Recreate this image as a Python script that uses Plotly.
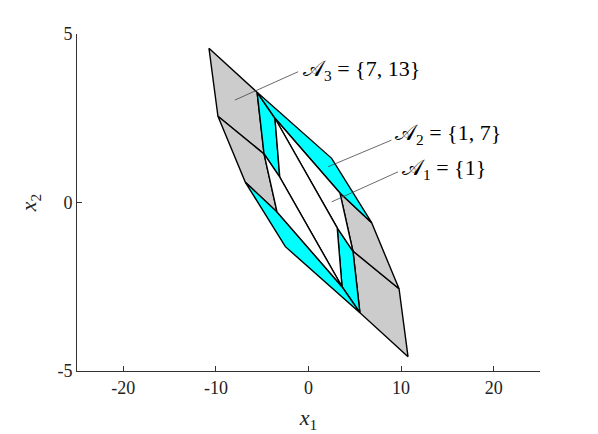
import plotly.graph_objects as go

# vertices of the polyhedral partition (x1, x2)
gray_x = [
    [-10.75, -5.55, -4.80, -9.78],
    [-9.78, -4.80, -3.40, -6.82],
    [10.75, 5.55, 4.80, 9.78],
    [9.78, 4.80, 3.40, 6.82],
]
gray_y = [
    [4.58, 3.27, 1.44, 2.56],
    [2.56, 1.44, -0.28, 0.60],
    [-4.58, -3.27, -1.44, -2.56],
    [-2.56, -1.44, 0.28, -0.60],
]
cyan_x = [
    [-5.55, -3.62, -3.10, -4.80],
    [5.55, 3.62, 3.10, 4.80],
    [-5.55, 2.50, 6.82, 3.40, -3.62],
    [5.55, -2.50, -6.82, -3.40, 3.62],
]
cyan_y = [
    [3.27, 2.50, 0.75, 1.44],
    [-3.27, -2.50, -0.75, -1.44],
    [3.27, 1.31, -0.60, 0.28, 2.50],
    [-3.27, -1.31, 0.60, -0.28, -2.50],
]
white_x = [
    [-3.62, 3.40, 4.80, 3.10],
    [-3.62, 3.10, 3.62, -3.10],
    [3.62, -3.40, -4.80, -3.10],
]
white_y = [
    [2.50, 0.28, -1.45, -0.75],
    [2.50, -0.75, -2.50, 0.75],
    [-2.50, -0.28, 1.44, 0.75],
]

# region labels with leader lines
labels = ["𝒜<sub>3</sub> = {7, 13}", "𝒜<sub>2</sub> = {1, 7}", "𝒜<sub>1</sub> = {1}"]
label_x = [-0.76, 9.13, 9.85]
label_y = [3.93, 2.02, 0.99]
leader_x = [[-7.95, -1.12], [2.11, 8.95], [2.51, 9.67]]
leader_y = [[3.04, 3.88], [1.06, 1.85], [0.02, 0.91]]

fig = go.Figure()


def add_regions(xs, ys, color):
    for px, py in zip(xs, ys):
        fig.add_trace(go.Scatter(
            x=px + [px[0]], y=py + [py[0]], mode="lines", fill="toself",
            fillcolor=color, line=dict(color="black", width=1.4),
            hoverinfo="skip", showlegend=False))


add_regions(gray_x, gray_y, "#cccccc")
add_regions(cyan_x, cyan_y, "#00ffff")
add_regions(white_x, white_y, "white")

for lx, ly in zip(leader_x, leader_y):
    fig.add_trace(go.Scatter(x=lx, y=ly, mode="lines",
                             line=dict(color="#444444", width=0.8),
                             hoverinfo="skip", showlegend=False))

for text, tx, ty in zip(labels, label_x, label_y):
    fig.add_annotation(x=tx, y=ty, text=text, showarrow=False,
                       xanchor="left", yanchor="middle",
                       font=dict(family="Liberation Serif", size=22, color="black"))

axis_style = dict(showline=True, linecolor="#333333", linewidth=1, mirror=False,
                  showgrid=False, zeroline=False, ticks="inside", ticklen=5,
                  tickcolor="#333333",
                  tickfont=dict(family="Liberation Serif", size=18, color="#222222"))

fig.update_xaxes(range=[-25, 25], tickvals=[-20, -10, 0, 10, 20],
                 ticktext=["-20", "-10", "0", "10", "20"],
                 title=dict(text="<i>x</i><sub>1</sub>", standoff=13,
                            font=dict(family="Liberation Serif", size=22, color="#222222")),
                 **axis_style)
fig.update_yaxes(range=[-5, 5], tickvals=[-5, 0, 5], ticktext=["-5", "0", "5"],
                 title=dict(text="<i>x</i><sub>2</sub>", standoff=14,
                            font=dict(family="Liberation Serif", size=22, color="#222222")),
                 **axis_style)

# the page body adds an 8px offset, so margins are trimmed to keep the plot area in place
fig.update_layout(width=598, height=434, margin=dict(l=69, r=66, t=26, b=71),
                  plot_bgcolor="white", paper_bgcolor="white")

fig.write_html("out.html")
